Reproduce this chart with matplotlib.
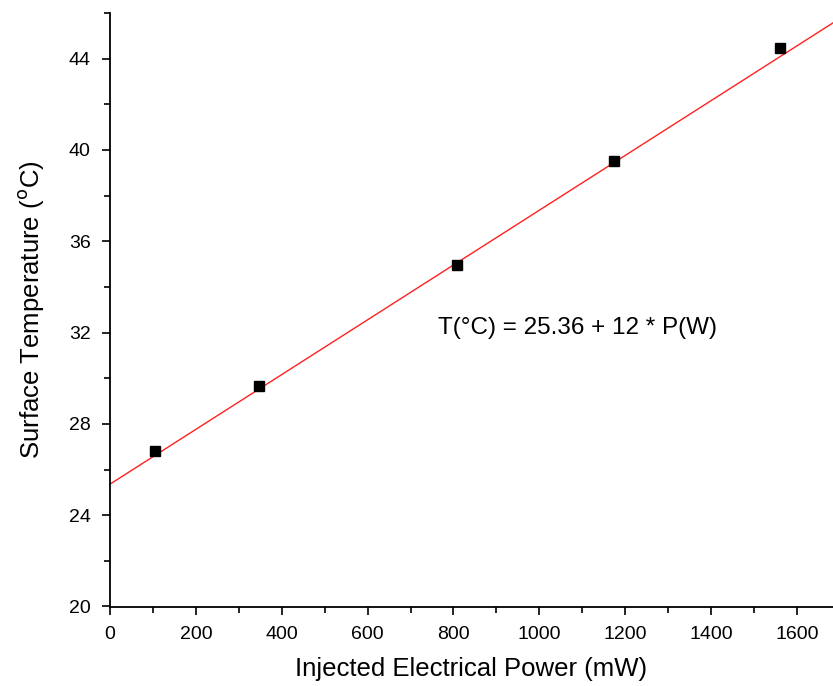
import matplotlib
matplotlib.use("Agg")
import matplotlib.pyplot as plt
import numpy as np
from matplotlib.ticker import MultipleLocator

plt.rcParams['font.family'] = ['Liberation Sans', 'DejaVu Sans']

# Measured points
power_mw = [105, 348, 808, 1175, 1561]
temp_c = [26.8, 29.65, 34.98, 39.5, 44.48]

# Linear fit T = a + b * P(W)
fit_intercept = 25.36
fit_slope = 12.0  # per W

fig = plt.figure(figsize=(8.33, 6.86), dpi=100)
ax = fig.add_axes([110/833, 1 - 606.5/686, (833-110)/833, (606.5-13)/686])

xlim = (0, 1684)
ax.set_xlim(*xlim)
ax.set_ylim(20, 46)

xs = np.array(xlim, dtype=float)
ax.plot(xs, fit_intercept + fit_slope * xs / 1000.0, color='#ff2020', lw=1.0, zorder=2,
        clip_on=False)
ax.plot(power_mw, temp_c, 's', color='black', ms=7, zorder=3)

ax.spines['top'].set_visible(False)
ax.spines['right'].set_visible(False)
for s in ('left', 'bottom'):
    ax.spines[s].set_linewidth(1.3)

ax.xaxis.set_major_locator(MultipleLocator(200))
ax.xaxis.set_minor_locator(MultipleLocator(100))
ax.yaxis.set_major_locator(MultipleLocator(4))
ax.yaxis.set_minor_locator(MultipleLocator(2))
ax.tick_params(which='major', direction='out', length=6, width=1.2, labelsize=14, pad=8)
ax.tick_params(which='minor', direction='out', length=4, width=1.2)

ax.set_xlabel('Injected Electrical Power (mW)', fontsize=18.5, labelpad=10)
ax.set_ylabel('Surface Temperature ($^{\\rm o}$C)', fontsize=18.5, labelpad=16)

ax.text(764, 32.2, 'T(°C) = 25.36 + 12 * P(W)', fontsize=17.5, ha='left', va='center')

fig.savefig('out.png', dpi=100, facecolor='white')
